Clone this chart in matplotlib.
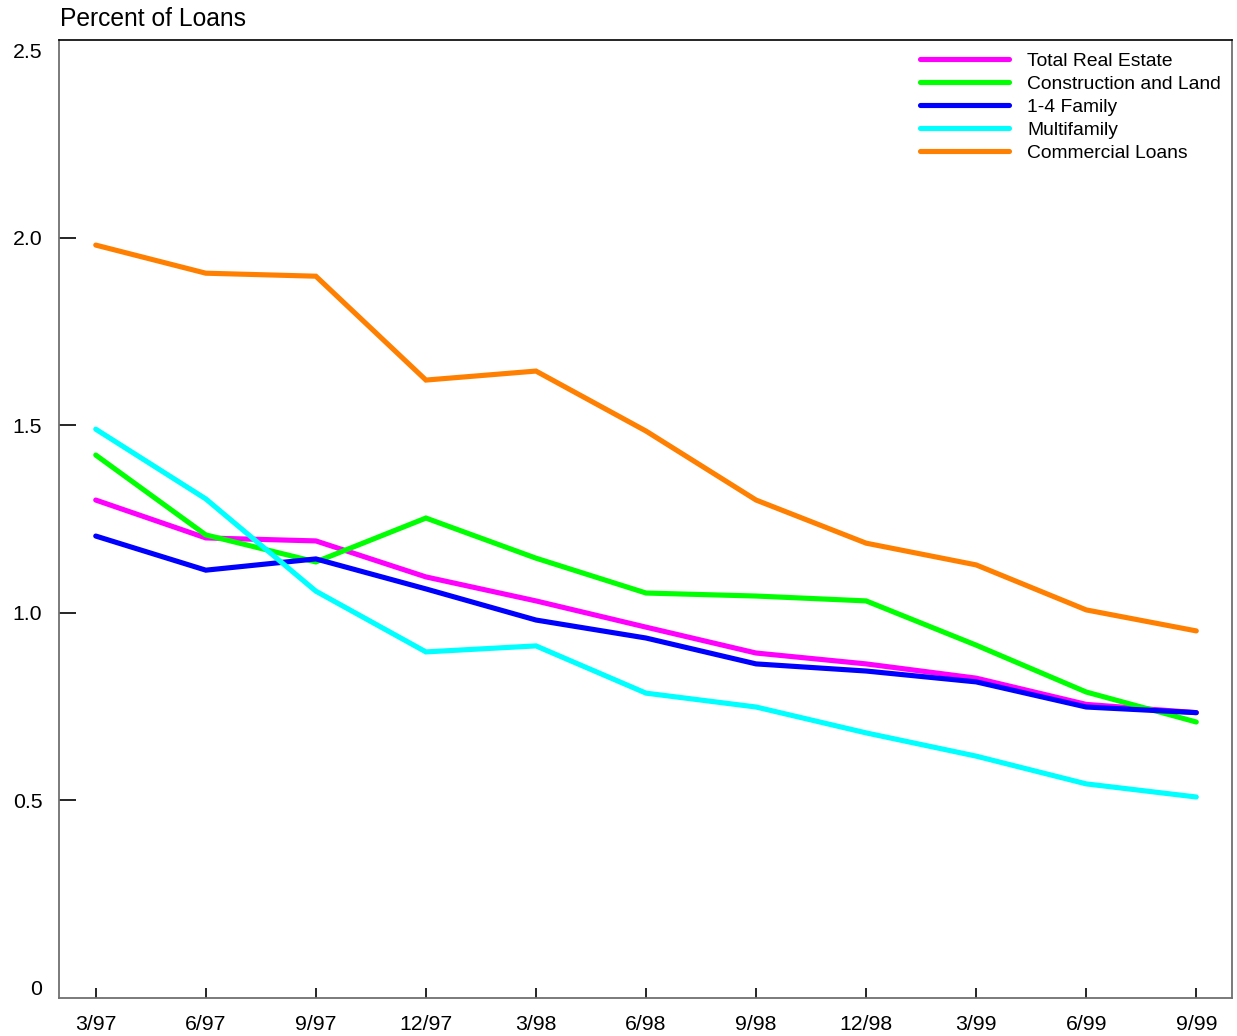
import numpy as np
import matplotlib.pyplot as plt

plt.rcParams['font.family'] = ['Liberation Sans', 'DejaVu Sans']

# quarters and series (percent of loans)
quarters = ['3/97', '6/97', '9/97', '12/97', '3/98', '6/98', '9/98', '12/98', '3/99', '6/99', '9/99']
total_re = [1.30, 1.199, 1.191, 1.095, 1.031, 0.961, 0.892, 0.863, 0.825, 0.755, 0.733]
constr = [1.42, 1.207, 1.135, 1.252, 1.145, 1.052, 1.044, 1.031, 0.913, 0.788, 0.708]
family14 = [1.204, 1.113, 1.143, 1.063, 0.980, 0.932, 0.863, 0.844, 0.815, 0.748, 0.733]
multifam = [1.489, 1.303, 1.057, 0.895, 0.911, 0.785, 0.748, 0.679, 0.617, 0.543, 0.508]
commercial = [1.980, 1.905, 1.897, 1.620, 1.644, 1.484, 1.300, 1.185, 1.127, 1.007, 0.951]

names = ['Total Real Estate', 'Construction and Land', '1-4 Family', 'Multifamily', 'Commercial Loans']
colors = ['#FF00FF', '#00FF00', '#0000FF', '#00FFFF', '#FF8000']
series = [total_re, constr, family14, multifam, commercial]

fig = plt.figure(figsize=(12.37, 10.36), dpi=100)
ax = fig.add_axes([0.0477, 0.0367, 0.9483, 0.9247])

x = np.arange(len(quarters))
for s, c, n in zip(series, colors, names):
    ax.plot(x, s, color=c, lw=3.7, label=n, solid_capstyle='round', solid_joinstyle='miter')

ax.set_xlim(-0.334, 10.325)
ax.set_ylim(-0.028, 2.527)
ax.set_xticks(x)
ax.set_xticklabels(quarters, fontsize=15.3)
yt = [0, 0.5, 1.0, 1.5, 2.0, 2.5]
ax.set_yticks(yt)
ax.set_yticklabels(['0', '0.5', '1.0', '1.5', '2.0', '2.5'], fontsize=15.3)
ax.tick_params(axis='y', direction='in', length=12, width=1.2, pad=12, colors='black')
ax.tick_params(axis='x', direction='in', length=7, width=1.2, pad=12, colors='black')
yl = ax.yaxis.get_major_ticks()
yl[0].tick1line.set_visible(False)
yl[-1].tick1line.set_visible(False)

for side in ['left', 'bottom', 'right']:
    ax.spines[side].set_color('#707070')
    ax.spines[side].set_linewidth(1.3)
ax.spines['top'].set_color('black')
ax.spines['top'].set_linewidth(1.2)

ax.text(0.001, 1.009, 'Percent of Loans', transform=ax.transAxes, fontsize=17.7, ha='left', va='bottom')

ax.legend(loc='upper left', bbox_to_anchor=(0.734, 0.987), frameon=False, fontsize=13.9,
          handlelength=4.6, handletextpad=0.95, labelspacing=0.28, borderpad=0, borderaxespad=0)

fig.savefig('out.png', dpi=100)
